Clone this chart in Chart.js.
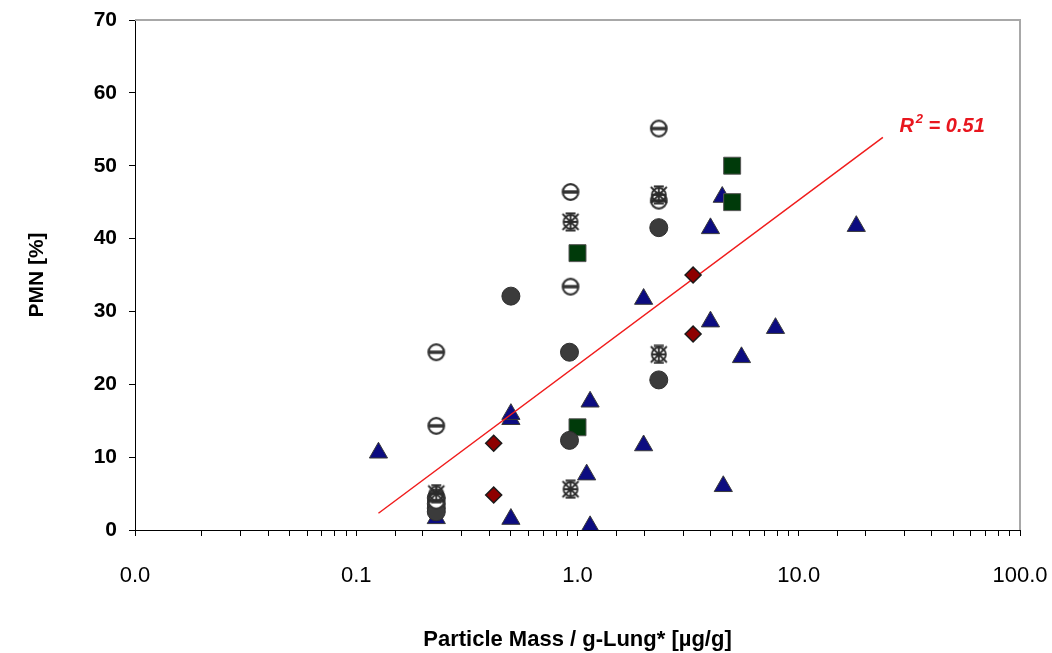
<!DOCTYPE html>
<html>
<head>
<meta charset="utf-8">
<script src="https://cdn.jsdelivr.net/npm/chart.js@4.4.1/dist/chart.umd.min.js"></script>
<style>
  html, body { margin: 0; padding: 0; background: #fff; }
  #wrap { width: 1052px; height: 653px; }
</style>
</head>
<body>
<div id="wrap"><canvas id="pmnChart" width="1052" height="653"></canvas></div>
<script>
// values (x = particle mass, y = PMN %)
const triangleX = [0.126, 0.23, 0.50, 0.50, 0.50, 1.10, 1.14, 1.14, 1.99, 1.99, 3.99, 3.99, 4.51, 4.56, 5.51, 7.85, 18.2];
const triangleY = [10.6, 1.6, 15.2, 15.9, 1.5, 7.6, 17.6, 0.5, 11.6, 31.7, 28.6, 41.4, 45.7, 6.0, 23.7, 27.7, 41.7];

const circleX = [0.23, 0.23, 0.23, 0.23, 0.50, 0.92, 0.92, 2.33, 2.33];
const circleY = [4.4, 3.6, 3.0, 2.5, 32.1, 24.4, 12.3, 41.5, 20.6];

const barCircleX = [0.23, 0.23, 0.23, 0.93, 0.93, 2.33, 2.33];
const barCircleY = [24.4, 14.3, 4.0, 46.4, 33.4, 55.1, 45.2];

const wheelX = [0.23, 0.93, 0.93, 2.33, 2.33];
const wheelY = [5.0, 42.3, 5.6, 46.0, 24.1];

const squareX = [1.0, 1.0, 5.0, 5.0];
const squareY = [38.0, 14.1, 50.0, 45.0];

const diamondX = [0.418, 0.418, 3.33, 3.33];
const diamondY = [11.9, 4.8, 35.0, 26.9];

// log trend line end points and its R² label
const trendX = [0.126, 24];
const trendY = [2.3, 53.9];
const r2Text = '0.51';
const r2Pos = { x: 28.5, y: 55.4 };

const xTicks = [0.01, 0.1, 1, 10, 100];

function pts(xs, ys) {
    return xs.map((x, i) => ({ x: x, y: ys[i] }));
}

function makeMarker(draw) {
    const c = document.createElement('canvas');
    c.width = 20;
    c.height = 20;
    draw(c.getContext('2d'));
    return c;
}

const barCircle = makeMarker(function (g) {
    g.beginPath();
    g.arc(10, 10, 7.8, 0, Math.PI * 2);
    g.fillStyle = '#fff';
    g.fill();
    g.lineWidth = 2.2;
    g.strokeStyle = '#333';
    g.stroke();
    g.fillStyle = '#333';
    g.fillRect(2.5, 8.3, 15, 3.4);
});

const wheel = makeMarker(function (g) {
    g.strokeStyle = '#2a2a2a';
    g.lineWidth = 1.8;
    g.beginPath();
    g.arc(10, 10, 7, 0, Math.PI * 2);
    g.stroke();
    g.beginPath();
    g.moveTo(2, 2); g.lineTo(18, 18);
    g.moveTo(18, 2); g.lineTo(2, 18);
    g.moveTo(10, 3); g.lineTo(10, 17);
    g.moveTo(3, 10); g.lineTo(17, 10);
    g.moveTo(5, 1.5); g.lineTo(15, 1.5);
    g.moveTo(5, 18.5); g.lineTo(15, 18.5);
    g.stroke();
});

const framePlugin = {
    id: 'frame',
    beforeDatasetsDraw(chart) {
        const { ctx, chartArea } = chart;
        ctx.save();
        ctx.strokeStyle = '#a8a8a8';
        ctx.lineWidth = 2;
        ctx.beginPath();
        ctx.moveTo(chartArea.left, chartArea.top);
        ctx.lineTo(chartArea.right, chartArea.top);
        ctx.lineTo(chartArea.right, chartArea.bottom);
        ctx.stroke();
        ctx.restore();
    }
};

const r2Plugin = {
    id: 'r2',
    afterDatasetsDraw(chart) {
        const ctx = chart.ctx;
        const px = chart.scales.x.getPixelForValue(r2Pos.x);
        const py = chart.scales.y.getPixelForValue(r2Pos.y);
        ctx.save();
        ctx.fillStyle = '#e8161e';
        ctx.textBaseline = 'middle';
        ctx.textAlign = 'left';
        ctx.font = 'italic bold 20px "Liberation Sans", Arial, sans-serif';
        ctx.fillText('R', px, py);
        let w = ctx.measureText('R').width;
        ctx.font = 'italic bold 13px "Liberation Sans", Arial, sans-serif';
        ctx.fillText('2', px + w + 2, py - 7);
        w += ctx.measureText('2').width + 2;
        ctx.font = 'italic bold 20px "Liberation Sans", Arial, sans-serif';
        ctx.fillText(' = ' + r2Text, px + w, py);
        ctx.restore();
    }
};

const ctx = document.getElementById('pmnChart').getContext('2d');

new Chart(ctx, {
    type: 'scatter',
    data: {
        datasets: [
            {
                data: pts(diamondX, diamondY),
                pointStyle: 'rectRot',
                pointRadius: 8,
                backgroundColor: '#8e0000',
                borderColor: '#1a1a1a',
                borderWidth: 1.5
            },
            {
                type: 'line',
                data: pts(trendX, trendY),
                borderColor: '#f01c1c',
                borderWidth: 1.5,
                pointRadius: 0,
                fill: false
            },
            {
                data: pts(wheelX, wheelY),
                pointStyle: wheel
            },
            {
                data: pts(barCircleX, barCircleY),
                pointStyle: barCircle
            },
            {
                data: pts(circleX, circleY),
                pointStyle: 'circle',
                pointRadius: 9,
                backgroundColor: '#3b3b3b',
                borderColor: '#2e2e2e',
                borderWidth: 1
            },
            {
                data: pts(squareX, squareY),
                pointStyle: 'rect',
                pointRadius: 12,
                backgroundColor: '#003a0a',
                borderColor: '#555',
                borderWidth: 1
            },
            {
                data: pts(triangleX, triangleY),
                pointStyle: 'triangle',
                pointRadius: 10.5,
                backgroundColor: '#0c0c80',
                borderColor: '#3a3a3a',
                borderWidth: 1
            }
        ]
    },
    options: {
        responsive: false,
        animation: false,
        devicePixelRatio: 1,
        layout: { padding: { top: 20, right: 32, left: 0, bottom: 0 } },
        plugins: {
            legend: { display: false },
            tooltip: { enabled: false }
        },
        scales: {
            x: {
                type: 'logarithmic',
                min: xTicks[0],
                max: xTicks[xTicks.length - 1],
                afterFit: function (scale) {
                    scale.height = 123;
                    scale.paddingLeft = 0;
                    scale.paddingRight = 0;
                },
                border: { color: '#000', width: 1 },
                grid: { drawOnChartArea: false, drawTicks: true, tickLength: 6, color: '#000' },
                ticks: {
                    autoSkip: false,
                    maxRotation: 0,
                    padding: 27,
                    color: '#000',
                    font: { family: '"Liberation Sans Narrow", "Liberation Sans", Arial, sans-serif', size: 22 },
                    callback: function (value) {
                        const v = Number(value);
                        return xTicks.some(t => Math.abs(t - v) < t * 1e-6) ? v.toFixed(1) : '';
                    }
                },
                title: {
                    display: true,
                    text: 'Particle Mass / g-Lung* [µg/g]',
                    color: '#000',
                    font: { family: '"Liberation Sans", Arial, sans-serif', size: 22, weight: 'bold' },
                    padding: { top: 0, bottom: 0 }
                }
            },
            y: {
                min: 0,
                max: 70,
                afterFit: function (scale) {
                    scale.width = 135;
                    scale.paddingTop = 0;
                    scale.paddingBottom = 0;
                },
                border: { color: '#000', width: 1 },
                grid: { drawOnChartArea: false, drawTicks: true, tickLength: 6, color: '#000' },
                ticks: {
                    stepSize: 10,
                    padding: 12,
                    color: '#000',
                    font: { family: '"Liberation Sans", Arial, sans-serif', size: 21, weight: 'bold' }
                },
                title: {
                    display: true,
                    text: 'PMN [%]',
                    color: '#000',
                    font: { family: '"Liberation Sans", Arial, sans-serif', size: 21, weight: 'bold' },
                    padding: { top: 25, bottom: 0 }
                }
            }
        }
    },
    plugins: [framePlugin, r2Plugin]
});
</script>
</body>
</html>
